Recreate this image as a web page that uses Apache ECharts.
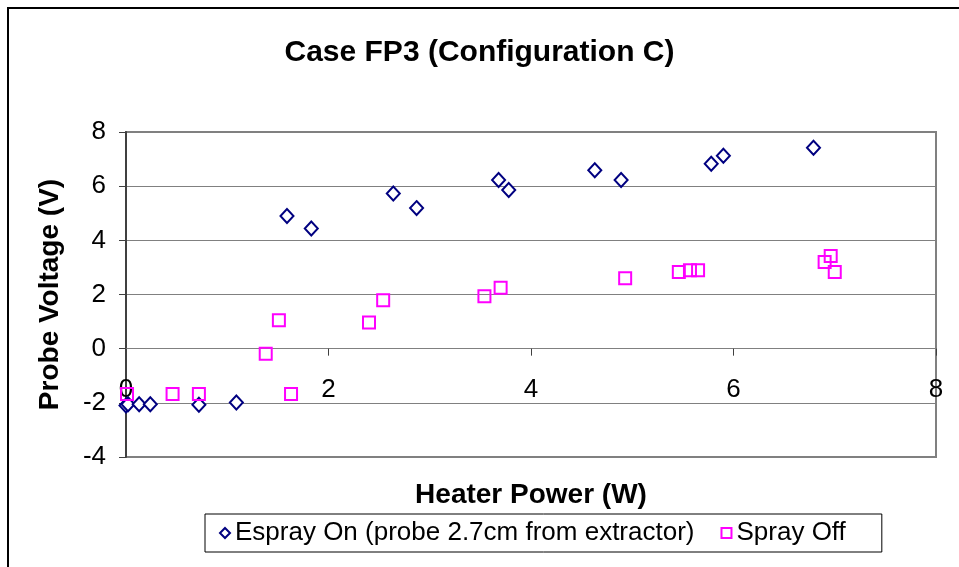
<!DOCTYPE html>
<html>
<head>
<meta charset="utf-8">
<script src="https://cdn.jsdelivr.net/npm/echarts@6/dist/echarts.min.js"></script>
<style>
html,body{margin:0;padding:0;background:#fff;}
#chart{width:959px;height:567px;}
</style>
</head>
<body>
<div id="chart"></div>
<script>
// Data
const titleText = "Case FP3 (Configuration C)";
const xTitle = "Heater Power (W)";
const yTitle = "Probe Voltage (V)";
const seriesNames = ["Espray On (probe 2.7cm from extractor)", "Spray Off"];

const esprayOnX = [0.00, 0.02, 0.13, 0.24, 0.72, 1.09, 1.59, 1.83, 2.64, 2.87, 3.68, 3.78, 4.63, 4.89, 5.78, 5.90, 6.79];
const esprayOnY = [-2.10, -2.05, -2.05, -2.05, -2.07, -1.99, 4.90, 4.44, 5.73, 5.19, 6.23, 5.86, 6.59, 6.23, 6.83, 7.12, 7.42];

const sprayOffX = [0.01, 0.46, 0.72, 1.63, 1.38, 1.51, 2.40, 2.54, 3.54, 3.70, 4.93, 5.46, 5.57, 5.65, 6.90, 6.96, 7.00];
const sprayOffY = [-1.67, -1.67, -1.67, -1.67, -0.19, 1.05, 0.97, 1.79, 1.94, 2.25, 2.60, 2.83, 2.90, 2.90, 3.20, 3.42, 2.83];

const xTicks = { min: 0, max: 8, interval: 2 };
const yTicks = { min: -4, max: 8, interval: 2 };

function pairs(xs, ys) { return xs.map((x, i) => [x, ys[i]]); }

const FONT = "'Liberation Sans', Arial, sans-serif";
const chart = echarts.init(document.getElementById('chart'), null, { renderer: 'canvas' });
chart.setOption({
  backgroundColor: '#ffffff',
  animation: false,
  title: [{
    text: titleText,
    left: 'center',
    top: 33,
    textStyle: { fontFamily: FONT, fontWeight: 'bold', fontSize: 30, color: '#000' }
  }],
  graphic: [{
    type: 'rect',
    shape: { x: 8, y: 8, width: 1000, height: 1000 },
    style: { fill: 'none', stroke: '#000', lineWidth: 2 },
    silent: true
  }],
  grid: {
    left: 126, right: 23, top: 132, bottom: 110,
    outerBoundsMode: 'none',
    containLabel: false,
    show: true, borderColor: '#808080', borderWidth: 2, backgroundColor: 'transparent'
  },
  legend: {
    left: 205, top: 514,
    orient: 'horizontal',
    borderColor: '#000', borderWidth: 1,
    padding: [6, 36, 6, 14],
    itemGap: 26,
    itemWidth: 10, itemHeight: 10,
    textStyle: { fontFamily: FONT, fontSize: 26, color: '#000' },
    data: seriesNames
  },
  xAxis: {
    type: 'value',
    min: xTicks.min, max: xTicks.max, interval: xTicks.interval,
    name: xTitle,
    nameLocation: 'middle',
    nameGap: 24,
    nameTextStyle: { fontFamily: FONT, fontWeight: 'bold', fontSize: 28, color: '#000' },
    axisLine: { onZero: true, lineStyle: { color: '#808080', width: 1 } },
    axisTick: { show: true, length: 7, lineStyle: { color: '#404040' } },
    axisLabel: { fontFamily: FONT, fontSize: 26, color: '#000', margin: -80 },
    splitLine: { show: false }
  },
  yAxis: {
    type: 'value',
    min: yTicks.min, max: yTicks.max, interval: yTicks.interval,
    name: yTitle,
    nameLocation: 'middle',
    nameRotate: 90,
    nameGap: 62,
    nameTextStyle: { fontFamily: FONT, fontWeight: 'bold', fontSize: 28, color: '#000' },
    axisLine: { show: true, onZero: false, lineStyle: { color: '#404040', width: 2 } },
    axisTick: { show: true, length: 7, lineStyle: { color: '#404040' } },
    axisLabel: { fontFamily: FONT, fontSize: 26, color: '#000', margin: 20 },
    splitLine: { show: true, lineStyle: { color: '#808080', width: 1 } }
  },
  series: [{
    name: seriesNames[0],
    type: 'scatter',
    symbol: 'diamond',
    symbolSize: [13, 14],
    itemStyle: { color: '#ffffff', borderColor: '#000080', borderWidth: 2, opacity: 1 },
    data: pairs(esprayOnX, esprayOnY),
    z: 3
  }, {
    name: seriesNames[1],
    type: 'scatter',
    symbol: 'rect',
    symbolSize: 12,
    itemStyle: { color: 'rgba(255,255,255,0)', borderColor: '#ff00ff', borderWidth: 2, opacity: 1 },
    data: pairs(sprayOffX, sprayOffY),
    z: 4
  }]
});
</script>
</body>
</html>
